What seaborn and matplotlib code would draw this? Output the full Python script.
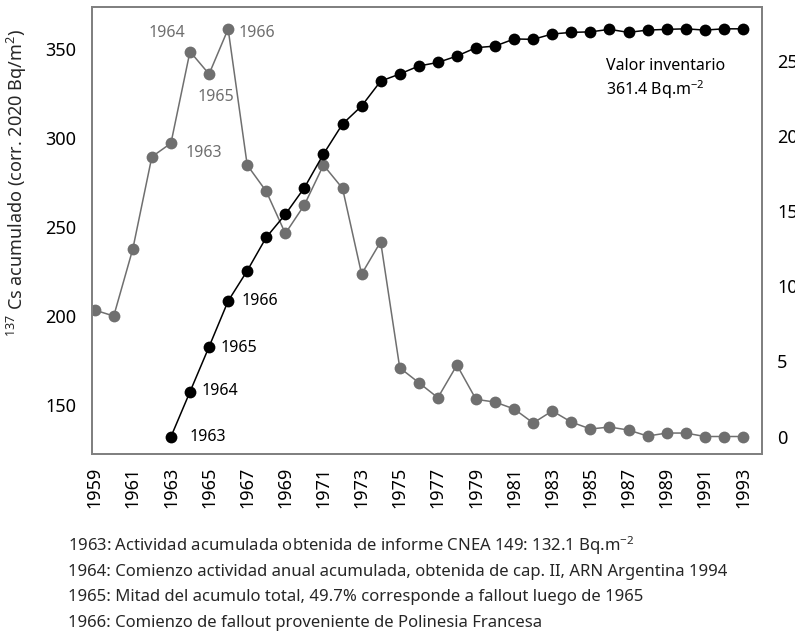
import matplotlib
matplotlib.use("Agg")
import matplotlib.pyplot as plt
import seaborn as sns
import pandas as pd

years_cum = list(range(1963, 1994))
cum_values = [132.1, 157.4, 182.7, 208.4, 225.4, 244.2, 257.1, 272.1, 291.0, 307.9,
              318.0, 332.0, 336.0, 340.5, 342.5, 346.1, 350.8, 351.7, 355.7, 355.5,
              358.5, 359.4, 359.7, 361.1, 359.4, 360.7, 361.1, 361.4, 360.7, 361.4, 361.4]

years_ann = list(range(1959, 1994))
ann_values = [8.41, 8.01, 12.47, 18.6, 19.5, 25.6, 24.1, 27.1, 18.05, 16.3,
              13.5, 15.4, 18.05, 16.5, 10.8, 12.95, 4.57, 3.58, 2.58, 4.75,
              2.47, 2.29, 1.83, 0.9, 1.7, 0.96, 0.5, 0.63, 0.43, 0.03,
              0.23, 0.23, 0.0, 0.0, 0.0]

left_ticks = [150, 200, 250, 300, 350]
right_ticks = [0, 5, 10, 15, 20, 25]
x_ticks = list(range(1959, 1994, 2))

notes = [
    "1963: Actividad acumulada obtenida de informe CNEA 149: 132.1 Bq.m$^{-2}$",
    "1964: Comienzo actividad anual acumulada, obtenida de cap. II, ARN Argentina 1994",
    "1965: Mitad del acumulo total, 49.7% corresponde a fallout luego de 1965",
    "1966: Comienzo de fallout proveniente de Polinesia Francesa",
]

sns.set_style("white")
plt.rcParams['font.family'] = ['Noto Sans', 'DejaVu Sans']
plt.rcParams['mathtext.default'] = 'regular'

GRAY = "#6f6f6f"
SPINE = "#808080"

fig = plt.figure(figsize=(7.95, 6.39), dpi=100)
ax = fig.add_axes([92/795, 1-453.5/639, (762-92)/795, (453.5-7.3)/639])
ax2 = ax.twinx()

df_cum = pd.DataFrame({"year": years_cum, "val": cum_values})
df_ann = pd.DataFrame({"year": years_ann, "val": ann_values})

sns.lineplot(data=df_ann, x="year", y="val", ax=ax2, color=GRAY, marker="o",
             markersize=8.5, markeredgewidth=0, linewidth=1.1)
sns.lineplot(data=df_cum, x="year", y="val", ax=ax, color="black", marker="o",
             markersize=8.5, markeredgewidth=0, linewidth=1.1)

ax.set_zorder(ax2.get_zorder() + 1)
ax.patch.set_visible(False)

ax.set_xlim(1958.86, 1994.0)
ax.set_ylim(122.7, 373.5)
ax2.set_ylim(-1.13, 28.54)

ax.set_xticks(x_ticks)
ax.set_xticklabels([str(y) for y in x_ticks], rotation=90)
ax.set_yticks(left_ticks)
ax2.set_yticks(right_ticks)

ax.set_xlabel("")
ax.set_ylabel("")
ax2.set_ylabel("")

ax.tick_params(axis="x", length=0, pad=9.5, labelsize=13, colors="black")
ax.tick_params(axis="y", length=0, pad=11.5, labelsize=13, colors="black")
ax2.tick_params(axis="y", length=0, pad=10.8, labelsize=13, colors="black")

for a in (ax, ax2):
    for s in a.spines.values():
        s.set_color(SPINE)
        s.set_linewidth(1.3)
        s.set_visible(True)

# annotations for the annual series (right axis)
ax2.text(1961.85, 26.8, "1964", color=GRAY, fontsize=11.5, ha="left", va="center")
ax2.text(1966.55, 26.83, "1966", color=GRAY, fontsize=11.5, ha="left", va="center")
ax2.text(1964.41, 22.6, "1965", color=GRAY, fontsize=11.5, ha="left", va="center")
ax2.text(1963.75, 18.83, "1963", color=GRAY, fontsize=11.5, ha="left", va="center")

# annotations for cumulative series (left axis)
ax.text(1963.98, 132.1, "1963", color="black", fontsize=11.5, ha="left", va="center")
ax.text(1964.62, 157.9, "1964", color="black", fontsize=11.5, ha="left", va="center")
ax.text(1965.6, 182.1, "1965", color="black", fontsize=11.5, ha="left", va="center")
ax.text(1966.72, 208.4, "1966", color="black", fontsize=11.5, ha="left", va="center")

ax.text(1985.83, 333.0, "Valor inventario\n361.4 Bq.m$^{-2}$", color="black",
        fontsize=11.5, ha="left", va="center", linespacing=1.25)

fig.text(17/795, 1-183/639, "$^{137}$ Cs acumulado (corr. 2020 Bq/m$^{2}$)",
         rotation=90, ha="center", va="center", fontsize=13)

for i, line in enumerate(notes):
    fig.text(68/795, 1-(546 + 25.7*i)/639, line, ha="left", va="center", fontsize=12)

fig.savefig("out.png", dpi=100)
